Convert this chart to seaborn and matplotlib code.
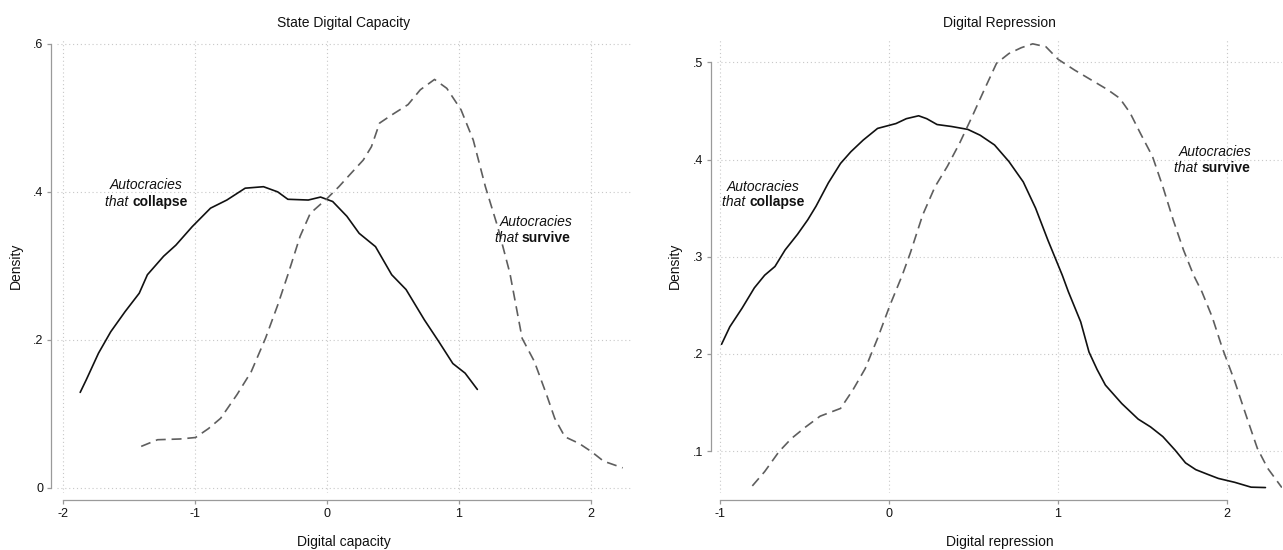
import matplotlib
matplotlib.use("Agg")
import matplotlib.pyplot as plt
import numpy as np
import pandas as pd
import seaborn as sns

# ---- kernel density estimates: state digital capacity ----
cap_collapse_x = [-1.873, -1.827, -1.734, -1.641, -1.533, -1.425, -1.363, -1.240, -1.147,
                  -1.023, -0.884, -0.760, -0.621, -0.482, -0.374, -0.297, -0.142, -0.049,
                  0.043, 0.151, 0.244, 0.368, 0.491, 0.600, 0.739, 0.847, 0.955, 1.048, 1.141]
cap_collapse_y = [0.129, 0.146, 0.182, 0.211, 0.238, 0.263, 0.288, 0.313, 0.328,
                  0.353, 0.378, 0.389, 0.405, 0.407, 0.400, 0.390, 0.389, 0.393,
                  0.387, 0.367, 0.344, 0.326, 0.288, 0.268, 0.227, 0.198, 0.168, 0.155, 0.133]

cap_survive_x = [-1.410, -1.286, -1.116, -0.998, -0.900, -0.807, -0.683, -0.575, -0.467,
                 -0.374, -0.297, -0.204, -0.127, 0.000, 0.090, 0.182, 0.275, 0.337, 0.399,
                 0.491, 0.615, 0.708, 0.816, 0.909, 1.017, 1.110, 1.202, 1.295, 1.388,
                 1.481, 1.573, 1.666, 1.728, 1.805, 1.913, 2.006, 2.099, 2.244]
cap_survive_y = [0.056, 0.065, 0.066, 0.068, 0.080, 0.094, 0.126, 0.157, 0.202,
                 0.247, 0.288, 0.340, 0.371, 0.391, 0.407, 0.425, 0.443, 0.461, 0.493,
                 0.504, 0.518, 0.538, 0.552, 0.540, 0.511, 0.470, 0.407, 0.353, 0.290,
                 0.202, 0.171, 0.126, 0.094, 0.069, 0.060, 0.049, 0.036, 0.027]

# ---- kernel density estimates: digital repression ----
rep_collapse_x = [-0.991, -0.942, -0.870, -0.797, -0.736, -0.675, -0.615, -0.542, -0.481,
                  -0.432, -0.359, -0.287, -0.226, -0.153, -0.068, 0.041, 0.102, 0.175,
                  0.223, 0.284, 0.369, 0.466, 0.539, 0.624, 0.709, 0.794, 0.867, 0.940,
                  1.025, 1.061, 1.134, 1.183, 1.231, 1.280, 1.377, 1.474, 1.547, 1.620,
                  1.693, 1.754, 1.815, 1.888, 1.948, 2.045, 2.142, 2.227]
rep_collapse_y = [0.210, 0.228, 0.247, 0.268, 0.281, 0.290, 0.307, 0.323, 0.338,
                  0.352, 0.376, 0.396, 0.408, 0.420, 0.432, 0.437, 0.442, 0.445,
                  0.442, 0.436, 0.434, 0.431, 0.425, 0.415, 0.398, 0.377, 0.350, 0.317,
                  0.281, 0.264, 0.233, 0.202, 0.184, 0.168, 0.149, 0.133, 0.125, 0.115,
                  0.101, 0.088, 0.081, 0.076, 0.072, 0.068, 0.063, 0.0626]

rep_survive_x = [-0.809, -0.736, -0.651, -0.578, -0.493, -0.408, -0.287, -0.214, -0.141,
                 -0.068, 0.005, 0.078, 0.126, 0.199, 0.272, 0.345, 0.418, 0.491, 0.564,
                 0.636, 0.709, 0.782, 0.850, 0.928, 1.001, 1.098, 1.195, 1.292, 1.365,
                 1.426, 1.487, 1.559, 1.620, 1.681, 1.742, 1.802, 1.851, 1.912, 1.972,
                 2.045, 2.118, 2.179, 2.240, 2.324]
rep_survive_y = [0.0643, 0.079, 0.0996, 0.113, 0.125, 0.136, 0.144, 0.163, 0.185,
                 0.216, 0.250, 0.281, 0.304, 0.343, 0.372, 0.393, 0.417, 0.444, 0.472,
                 0.499, 0.509, 0.515, 0.519, 0.516, 0.503, 0.492, 0.482, 0.472, 0.463,
                 0.448, 0.427, 0.403, 0.372, 0.338, 0.307, 0.281, 0.264, 0.238, 0.206,
                 0.172, 0.134, 0.103, 0.0825, 0.0626]

# ---- axis ticks ----
cap_xticks = [-2, -1, 0, 1, 2]
cap_xticklabels = ["-2", "-1", "0", "1", "2"]
cap_yticks = [0, 0.2, 0.4, 0.6]
cap_yticklabels = ["0", ".2", ".4", ".6"]

rep_xticks = [-1, 0, 1, 2]
rep_xticklabels = ["-1", "0", "1", "2"]
rep_yticks = [0.1, 0.2, 0.3, 0.4, 0.5]
rep_yticklabels = [".1", ".2", ".3", ".4", ".5"]

titles = ["State Digital Capacity", "Digital Repression"]
xlabels = ["Digital capacity", "Digital repression"]


def frame(cx, cy, sx, sy):
    return pd.concat([
        pd.DataFrame({"x": cx, "density": cy, "group": "collapse"}),
        pd.DataFrame({"x": sx, "density": sy, "group": "survive"}),
    ], ignore_index=True)


sns.set_theme(style="white")
plt.rcParams["font.family"] = ["Liberation Sans", "DejaVu Sans"]

W, H = 1283, 550
fig = plt.figure(figsize=(W / 100, H / 100), dpi=100)
ax1 = fig.add_axes([57 / W, 1 - 493 / H, 574 / W, 455 / H])
ax2 = fig.add_axes([717 / W, 1 - 493 / H, 565 / W, 455 / H])

GRID = "#c8c8c8"
AXIS = "#9a9a9a"
palette = {"collapse": "#111111", "survive": "#5e5e5e"}
dashes = {"collapse": "", "survive": (6, 3.5)}

panels = [
    (ax1, frame(cap_collapse_x, cap_collapse_y, cap_survive_x, cap_survive_y),
     (-2.049, 2.307), (-0.007, 0.608), cap_xticks, cap_xticklabels, cap_yticks, cap_yticklabels),
    (ax2, frame(rep_collapse_x, rep_collapse_y, rep_survive_x, rep_survive_y),
     (-1.018, 2.325), (0.057, 0.525), rep_xticks, rep_xticklabels, rep_yticks, rep_yticklabels),
]

for i, (ax, df, xlim, ylim, xt, xtl, yt, ytl) in enumerate(panels):
    sns.lineplot(data=df, x="x", y="density", hue="group", style="group",
                 palette=palette, dashes=dashes, estimator=None, sort=False,
                 linewidth=1.2, legend=False, ax=ax)
    ax.set_xlim(*xlim)
    ax.set_ylim(*ylim)
    ax.set_xticks(xt)
    ax.set_xticklabels(xtl)
    ax.set_yticks(yt)
    ax.set_yticklabels(ytl)
    ax.grid(True, color=GRID, linestyle=(0, (1, 2.5)), linewidth=0.8)
    for s in ("top", "right"):
        ax.spines[s].set_visible(False)
    ax.spines["left"].set_position(("outward", 4))
    ax.spines["bottom"].set_position(("outward", 5))
    ax.spines["left"].set_bounds(yt[0], yt[-1])
    ax.spines["bottom"].set_bounds(xt[0], xt[-1])
    for s in ("left", "bottom"):
        ax.spines[s].set_color(AXIS)
        ax.spines[s].set_linewidth(0.9)
    ax.tick_params(axis="both", which="major", length=3, width=0.9, color=AXIS,
                   labelsize=9, labelcolor="#111111", pad=3,
                   bottom=True, left=True)
    ax.set_title(titles[i], fontsize=10, color="#111111", pad=8)
    ax.set_xlabel(xlabels[i], fontsize=10, color="#111111", va="center")
    ax.set_ylabel("Density", fontsize=10, color="#111111", va="center")
    ax.xaxis.set_label_coords(0.5, -0.107)

ax1.yaxis.set_label_coords(-0.0714, 0.5)
ax2.yaxis.set_label_coords(-0.074, 0.5)


def label(ax, x, y1, y2, outcome):
    kw = dict(fontsize=10, color="#111111", va="center")
    ax.text(x, y1, "Autocracies", ha="center", style="italic", **kw)
    ax.annotate("that ", (x, y2), xytext=(-10.3, 0), textcoords="offset points",
                ha="right", style="italic", **kw)
    ax.annotate(outcome, (x, y2), xytext=(-10.3, 0), textcoords="offset points",
                ha="left", weight="bold", **kw)


label(ax1, -1.37, 0.409, 0.386, "collapse")
label(ax1, 1.586, 0.359, 0.338, "survive")
label(ax2, -0.743, 0.372, 0.356, "collapse")
label(ax2, 1.932, 0.408, 0.391, "survive")

fig.savefig("out.png", dpi=100, facecolor="white")
